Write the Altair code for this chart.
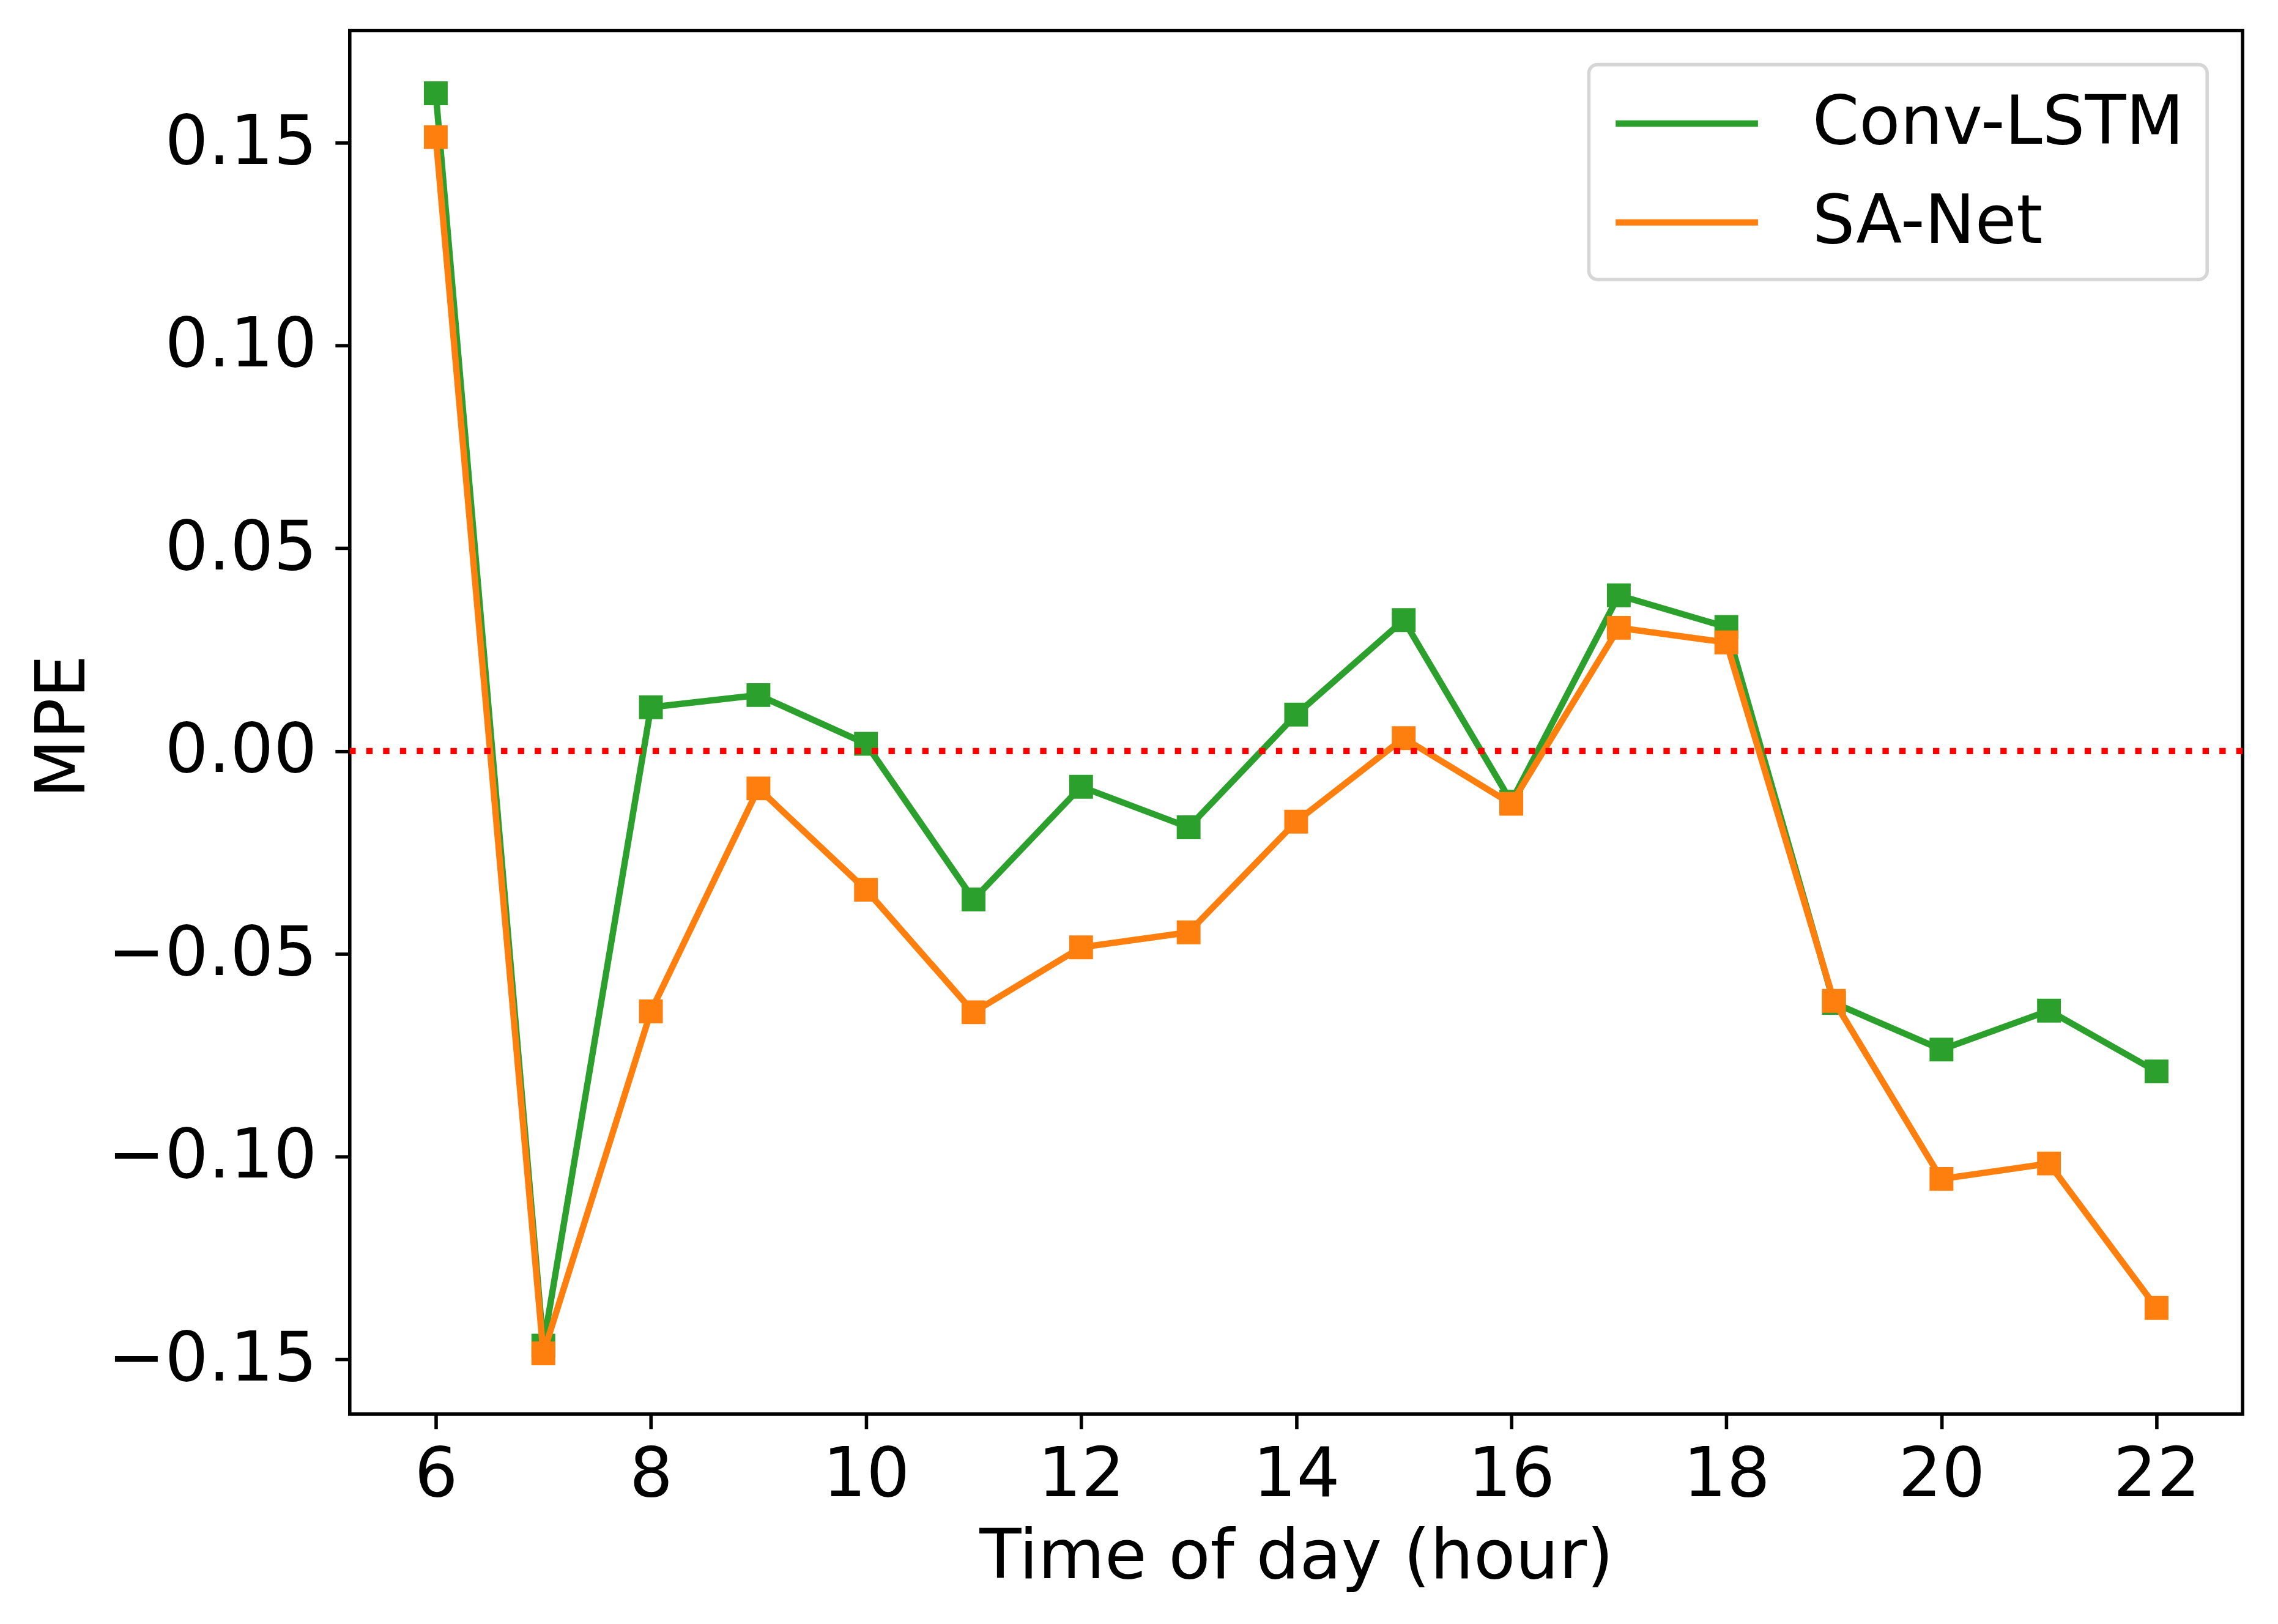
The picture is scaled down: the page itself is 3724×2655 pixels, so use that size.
import altair as alt
import pandas as pd

hours = [6, 7, 8, 9, 10, 11, 12, 13, 14, 15, 16, 17, 18, 19, 20, 21, 22]
conv_lstm = [0.1622, -0.1466, 0.0108, 0.0138, 0.0018, -0.0366, -0.0088, -0.0188,
             0.0090, 0.0323, -0.0125, 0.0384, 0.0306, -0.0621, -0.0736, -0.0640, -0.0790]
sa_net = [0.1514, -0.1485, -0.0642, -0.0092, -0.0342, -0.0644, -0.0484, -0.0447,
          -0.0174, 0.0032, -0.0130, 0.0304, 0.0268, -0.0616, -0.1055, -0.1017, -0.1373]
series_names = ["Conv-LSTM", "SA-Net"]
series_colors = ["#2ca02c", "#ff7f0e"]
x_ticks = [6, 8, 10, 12, 14, 16, 18, 20, 22]
y_ticks = [-0.15, -0.10, -0.05, 0.00, 0.05, 0.10, 0.15]
x_domain = [5.2, 22.8]
y_domain = [-0.1635, 0.1777]
zero_line = [0.0]

rows = []
for name, vals in zip(series_names, [conv_lstm, sa_net]):
    for h, v in zip(hours, vals):
        rows.append({"hour": h, "mpe": v, "model": name})
df = pd.DataFrame(rows)
zero_df = pd.DataFrame({"y": zero_line})

FONT = "DejaVu Sans"
W, H = 3101, 2267

x_enc = alt.X("hour:Q", scale=alt.Scale(domain=x_domain, nice=False, zero=False),
              axis=alt.Axis(values=x_ticks, title="Time of day (hour)", format="d",
                            titleY=268, titleBaseline="alphabetic"))
y_enc = alt.Y("mpe:Q", scale=alt.Scale(domain=y_domain, nice=False, zero=False),
              axis=alt.Axis(values=y_ticks, title="MPE", format=".2f",
                            titleAngle=270, titleX=-469, titleY=1140,
                            titleBaseline="middle", titleAlign="center"))
# long horizontal stroke symbol (custom path scaled by sqrt(size)/2)
legend = alt.Legend(title=None, orient="none", legendX=2030, legendY=56,
                    symbolType="M-2.2,0H2.2", symbolSize=106 * 106, symbolStrokeWidth=10.4,
                    symbolOffset=64, symbolFillColor="transparent",
                    labelFontSize=110, labelFont=FONT, labelColor="black", labelLimit=0,
                    labelOffset=147, rowPadding=48, padding=38,
                    strokeColor="#d6d6d6", cornerRadius=14, fillColor="white")
color_enc = alt.Color("model:N", scale=alt.Scale(domain=series_names, range=series_colors),
                      legend=legend)

layers = []
for name in series_names:
    base = alt.Chart(df).transform_filter(alt.datum.model == name)
    layers.append(base.mark_line(strokeWidth=10.4).encode(x=x_enc, y=y_enc, color=color_enc))
    layers.append(base.mark_point(shape="square", size=1521, filled=True, opacity=1)
                  .encode(x=x_enc, y=y_enc, color=color_enc))

rule = alt.Chart(zero_df).mark_rule(color="red", strokeWidth=10.4,
                                    strokeDash=[10.4, 17.2]).encode(y=alt.Y("y:Q"))
layers.append(rule)

chart = alt.layer(*layers).properties(
    width=W, height=H,
    autosize=alt.AutoSizeParams(type="none"),
    padding={"left": 565, "top": 39, "right": 50, "bottom": 341},
).configure_view(
    stroke="black", strokeWidth=5.6
).configure_axis(
    grid=False, domain=False, labelLimit=0,
    labelFont=FONT, labelFontSize=112, labelColor="black",
    titleFont=FONT, titleFontSize=112, titleColor="black", titleFontWeight="normal",
    tickColor="black", tickWidth=5.6, tickSize=24,
).configure_axisX(labelPadding=22).configure_axisY(labelPadding=30
).configure_legend(strokeWidth=5.6)

chart.save("out.html", embed_options={"renderer": "svg", "actions": False})
